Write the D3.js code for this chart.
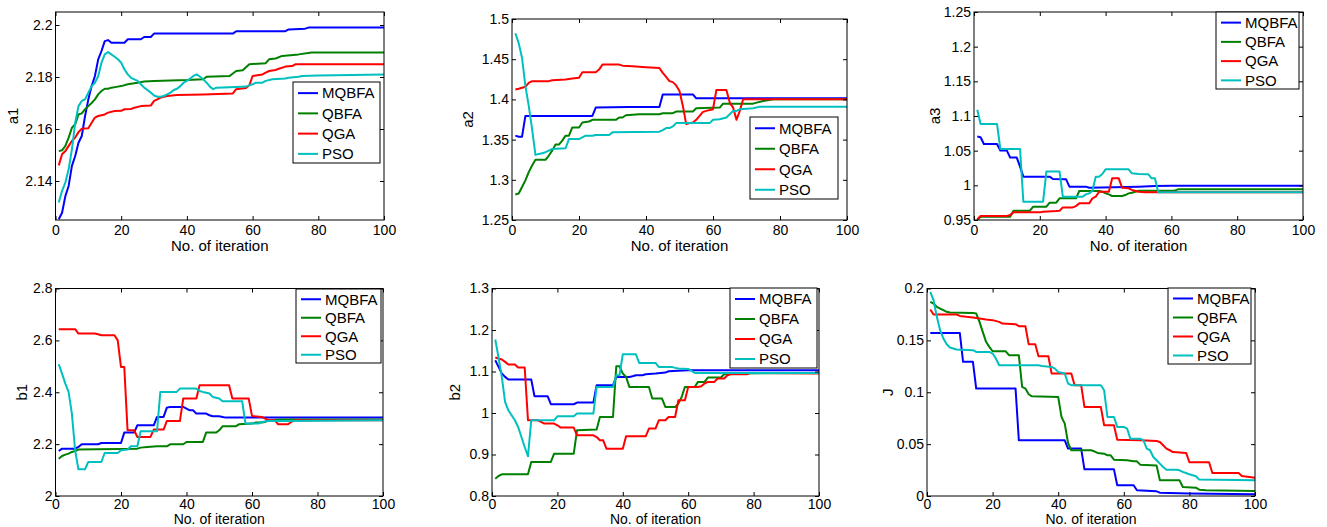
<!DOCTYPE html>
<html>
<head>
<meta charset="utf-8">
<script src="https://cdn.jsdelivr.net/npm/d3@7"></script>
<style>
  body { margin: 0; background: #fff; }
  svg { display: block; font-family: "Liberation Sans", Arial, Helvetica, sans-serif; }
</style>
</head>
<body>
<svg id="chart" width="1327" height="527" viewBox="0 0 1327 527"></svg>
<script>
// series names and colours (MATLAB b, g, r, c)
const seriesNames = ["MQBFA", "QBFA", "QGA", "PSO"]
const seriesColors = ["#0000ff", "#008000", "#ff0000", "#00bfbf"]
const iterTicks = [0, 20, 40, 60, 80, 100]

// values: [iteration, value]
// ---- a1
const a1_MQBFA = [[1,2.1253],[2,2.1278],[3,2.1342],[4,2.1381],[5,2.1458],[6,2.1496],[7,2.1547],[8,2.1573],[9,2.165],[10,2.1714],[11,2.1765],[12,2.1804],[13,2.1868],[14,2.19],[15,2.1938],[16,2.1942],[17,2.1932],[21,2.1932],[22,2.1945],[26,2.1945],[27,2.1954],[29,2.1954],[30,2.1967],[54,2.1967],[55,2.1976],[70,2.1976],[71,2.1983],[76,2.1986],[77,2.199],[100,2.199]]
const a1_QBFA = [[1,2.1515],[2,2.1518],[3,2.1535],[4,2.1567],[5,2.1605],[6,2.1618],[7,2.1656],[8,2.166],[9,2.1676],[10,2.1688],[11,2.17],[12,2.1714],[13,2.1733],[14,2.1746],[15,2.1755],[16,2.1755],[17,2.1759],[19,2.1763],[20,2.1765],[22,2.1772],[25,2.1778],[27,2.1783],[30,2.1785],[40,2.1788],[45,2.1791],[46,2.1801],[53,2.1804],[55,2.1823],[57,2.1826],[59,2.1849],[64,2.1853],[65,2.1868],[67,2.1871],[69,2.1881],[74,2.1887],[78,2.1894],[100,2.1894]]
const a1_QGA = [[1,2.146],[2,2.1503],[3,2.1515],[4,2.1535],[5,2.1554],[6,2.1567],[7,2.1588],[8,2.1601],[10,2.1603],[11,2.1624],[12,2.1644],[13,2.165],[15,2.1656],[16,2.1663],[18,2.1669],[20,2.167],[21,2.1676],[23,2.1677],[24,2.1682],[26,2.1688],[29,2.169],[30,2.1708],[31,2.1714],[32,2.1721],[34,2.1727],[37,2.1731],[45,2.1733],[54,2.1737],[55,2.1753],[58,2.1758],[59,2.1768],[60,2.1804],[61,2.1806],[63,2.181],[64,2.1817],[65,2.1823],[67,2.1827],[68,2.1832],[70,2.184],[72,2.1842],[73,2.1849],[100,2.1849]]
const a1_PSO = [[1,2.1317],[2,2.1362],[3,2.1394],[4,2.1445],[5,2.1522],[6,2.1624],[7,2.1688],[8,2.1708],[9,2.1714],[10,2.174],[11,2.1765],[12,2.1778],[13,2.1804],[14,2.1855],[15,2.1887],[16,2.1896],[17,2.1887],[18,2.1878],[19,2.1868],[20,2.1855],[21,2.1829],[22,2.181],[23,2.1797],[24,2.1791],[25,2.1785],[26,2.1772],[27,2.1759],[28,2.175],[29,2.174],[30,2.1729],[31,2.1724],[32,2.1724],[33,2.1727],[34,2.1733],[35,2.174],[36,2.175],[37,2.1755],[38,2.1765],[39,2.1778],[40,2.1785],[41,2.1794],[42,2.1804],[43,2.181],[44,2.1801],[45,2.1791],[46,2.1778],[47,2.1763],[48,2.1753],[49,2.1759],[55,2.1762],[58,2.1763],[59,2.1768],[60,2.1772],[61,2.1778],[63,2.1778],[64,2.1785],[66,2.1791],[70,2.1794],[71,2.1797],[74,2.1801],[75,2.1804],[80,2.1806],[90,2.1808],[100,2.181]]

// ---- a2
const a2_MQBFA = [[1,1.3549],[2,1.3536],[3,1.3536],[4,1.3795],[24,1.3795],[25,1.3898],[35,1.3905],[44,1.3905],[45,1.4062],[54,1.4062],[55,1.4013],[100,1.4013]]
const a2_QBFA = [[1,1.2817],[2,1.2829],[3,1.2911],[4,1.2993],[5,1.3096],[6,1.3178],[7,1.3248],[10,1.3248],[11,1.3302],[12,1.3363],[13,1.3438],[14,1.3438],[15,1.3487],[16,1.3549],[17,1.3549],[18,1.3651],[20,1.3651],[21,1.3713],[23,1.3725],[24,1.3746],[31,1.3746],[32,1.3775],[33,1.3775],[34,1.3803],[38,1.3816],[44,1.3816],[45,1.3828],[48,1.3828],[49,1.3849],[54,1.3849],[55,1.389],[62,1.3898],[63,1.3947],[72,1.3947],[73,1.396],[75,1.398],[78,1.4001],[100,1.4001]]
const a2_QGA = [[1,1.4124],[2,1.4132],[3,1.4145],[4,1.4157],[5,1.4206],[6,1.4227],[11,1.4227],[12,1.4239],[16,1.4248],[18,1.426],[20,1.4268],[21,1.4338],[25,1.4338],[26,1.4371],[27,1.4433],[32,1.4433],[33,1.442],[36,1.4412],[40,1.44],[44,1.4391],[45,1.433],[46,1.428],[47,1.4227],[48,1.4215],[49,1.4174],[50,1.4104],[51,1.3919],[52,1.3692],[53,1.3705],[54,1.3713],[55,1.3746],[56,1.3795],[57,1.3845],[58,1.3857],[60,1.3877],[61,1.4116],[64,1.4116],[65,1.396],[66,1.3898],[67,1.3746],[68,1.3857],[69,1.4001],[100,1.4001]]
const a2_PSO = [[1,1.4823],[2,1.47],[3,1.4515],[4,1.4165],[5,1.3919],[6,1.3631],[7,1.331],[8,1.3322],[9,1.3331],[10,1.3343],[11,1.3363],[12,1.3384],[16,1.3392],[17,1.3507],[20,1.3507],[21,1.3528],[22,1.3549],[24,1.3549],[25,1.3557],[29,1.3557],[30,1.359],[44,1.3598],[45,1.3618],[46,1.3643],[47,1.3643],[48,1.3664],[49,1.3705],[59,1.3705],[60,1.3746],[62,1.3754],[64,1.3775],[65,1.3816],[66,1.3857],[67,1.3857],[68,1.3877],[72,1.389],[74,1.391],[100,1.391]]

// ---- a3
const a3_MQBFA = [[1,1.0703],[2,1.0694],[3,1.0597],[7,1.0597],[8,1.0501],[10,1.0501],[11,1.04],[13,1.04],[14,1.027],[15,1.0125],[23,1.0125],[24,1.0091],[28,1.0087],[29,0.9981],[34,0.9981],[35,0.9966],[50,0.9981],[55,0.999],[60,0.9995],[100,0.9995]]
const a3_QBFA = [[1,0.95],[2,0.9547],[11,0.9547],[12,0.9634],[17,0.9634],[18,0.9692],[22,0.9692],[23,0.975],[25,0.975],[26,0.9812],[31,0.9812],[32,0.9918],[38,0.9918],[39,0.9908],[40,0.9884],[41,0.987],[42,0.9846],[45,0.9846],[46,0.986],[47,0.9884],[48,0.9894],[49,0.9908],[50,0.9923],[61,0.9923],[62,0.9942],[100,0.9942]]
const a3_QGA = [[1,0.951],[2,0.9557],[10,0.9557],[11,0.9571],[12,0.961],[20,0.961],[21,0.962],[25,0.9629],[26,0.9634],[27,0.9682],[30,0.9682],[31,0.9701],[32,0.974],[35,0.974],[36,0.9812],[37,0.9836],[38,0.9908],[41,0.9908],[42,1.0101],[44,1.0101],[45,0.9966],[47,0.9957],[48,0.9933],[50,0.9908],[52,0.9899],[100,0.9899]]
const a3_PSO = [[1,1.1089],[2,1.0886],[7,1.0886],[8,1.0525],[14,1.0525],[15,0.9764],[21,0.9764],[22,1.0198],[26,1.0198],[27,0.9836],[33,0.9836],[34,0.987],[35,0.9884],[36,0.9923],[37,1.0125],[38,1.0125],[39,1.0164],[40,1.0231],[47,1.0231],[48,1.0174],[50,1.0164],[53,1.0159],[54,1.0101],[55,1.0101],[56,0.9899],[100,0.9899]]

// ---- b1
const b1_MQBFA = [[1,2.1736],[2,2.1826],[6,2.1826],[7,2.1891],[8,2.1994],[13,2.1994],[14,2.2045],[20,2.2045],[21,2.2444],[24,2.2444],[25,2.2727],[30,2.2727],[31,2.3048],[33,2.3048],[34,2.3408],[35,2.3434],[39,2.3434],[40,2.337],[41,2.3305],[42,2.3305],[43,2.3177],[46,2.3177],[47,2.3113],[48,2.3074],[50,2.3074],[51,2.3048],[52,2.3022],[100,2.3022]]
const b1_QBFA = [[1,2.144],[2,2.1543],[3,2.1595],[4,2.1633],[5,2.1698],[6,2.1736],[7,2.1788],[25,2.1826],[26,2.1865],[28,2.1891],[31,2.1916],[34,2.1916],[35,2.1994],[39,2.1994],[40,2.2084],[45,2.2084],[46,2.2444],[49,2.2444],[50,2.2534],[51,2.2688],[55,2.2688],[56,2.2765],[60,2.2791],[61,2.283],[63,2.283],[64,2.2855],[65,2.292],[69,2.2945],[100,2.2945]]
const b1_QGA = [[1,2.643],[6,2.643],[7,2.6264],[12,2.6264],[13,2.6238],[14,2.62],[18,2.62],[19,2.6],[20,2.4977],[21,2.4977],[22,2.2534],[24,2.2534],[25,2.2277],[29,2.2277],[30,2.256],[33,2.256],[34,2.2894],[38,2.2894],[39,2.3756],[43,2.3756],[44,2.427],[53,2.427],[54,2.3756],[59,2.3756],[60,2.3087],[63,2.3048],[64,2.2984],[65,2.292],[67,2.292],[68,2.2765],[71,2.2765],[72,2.2855],[73,2.292],[100,2.292]]
const b1_PSO = [[1,2.508],[2,2.472],[3,2.4334],[4,2.4013],[5,2.3177],[6,2.1762],[7,2.1029],[9,2.1029],[10,2.1312],[14,2.1312],[15,2.1659],[19,2.1659],[20,2.1762],[22,2.1788],[23,2.1916],[25,2.1916],[26,2.2495],[31,2.2495],[32,2.4013],[37,2.4013],[38,2.4141],[43,2.4141],[44,2.405],[45,2.4013],[47,2.395],[48,2.382],[50,2.3756],[51,2.3653],[57,2.3653],[58,2.2791],[62,2.2791],[63,2.2855],[65,2.2894],[70,2.2894],[100,2.292]]

// ---- b2
const b2_MQBFA = [[1,1.1272],[2,1.1111],[3,1.095],[4,1.087],[5,1.0806],[12,1.0806],[13,1.0404],[17,1.0404],[18,1.0211],[25,1.0211],[26,1.0251],[31,1.0251],[32,1.0669],[37,1.0669],[38,1.087],[42,1.087],[43,1.0886],[44,1.091],[46,1.091],[47,1.0934],[50,1.095],[53,1.0974],[54,1.1006],[60,1.103],[100,1.103]]
const b2_QBFA = [[1,0.8418],[2,0.8482],[3,0.8522],[11,0.8522],[12,0.882],[18,0.882],[19,0.9021],[25,0.9021],[26,0.9584],[32,0.96],[33,0.9905],[37,0.9905],[38,1.1127],[39,1.1127],[40,1.095],[41,1.087],[42,1.0629],[48,1.0629],[49,1.0347],[52,1.0347],[53,1.0146],[56,1.0146],[57,1.0226],[58,1.0387],[59,1.0629],[62,1.0629],[63,1.0749],[65,1.0749],[66,1.0854],[70,1.0854],[71,1.0934],[75,1.095],[100,1.0966]]
const b2_QGA = [[1,1.1336],[2,1.1312],[3,1.1288],[4,1.1232],[5,1.1167],[7,1.1167],[8,1.1095],[10,1.1095],[11,0.9825],[14,0.9825],[15,0.9785],[16,0.9744],[19,0.9744],[20,0.9704],[21,0.9648],[25,0.9648],[26,0.9463],[31,0.9463],[32,0.9421],[33,0.9342],[34,0.9342],[35,0.9141],[40,0.9141],[41,0.9439],[47,0.9439],[48,0.9624],[50,0.9624],[51,0.9825],[53,0.9825],[54,0.9905],[56,0.9905],[57,1.0307],[59,1.0307],[60,1.0629],[63,1.0629],[64,1.0645],[65,1.0711],[66,1.0749],[68,1.0749],[69,1.083],[71,1.083],[72,1.091],[73,1.0934],[78,1.0934],[79,1.0966],[100,1.095]]
const b2_PSO = [[1,1.177],[2,1.1336],[3,1.087],[4,1.0267],[5,1.0066],[6,0.9946],[7,0.9825],[8,0.9664],[9,0.9423],[10,0.9182],[11,0.8957],[12,0.9825],[19,0.9825],[20,0.9921],[25,0.9921],[26,0.9986],[31,0.9986],[32,1.0629],[37,1.0629],[38,1.091],[39,1.091],[40,1.1416],[44,1.1416],[45,1.1207],[50,1.1207],[51,1.1111],[55,1.1111],[56,1.1087],[57,1.1071],[60,1.1063],[61,1.1014],[62,1.0966],[100,1.0966]]

// ---- J
const J_MQBFA = [[1,0.1572],[10,0.1572],[11,0.1293],[14,0.1293],[15,0.1035],[27,0.1035],[28,0.0537],[42,0.0537],[43,0.0457],[47,0.0457],[48,0.0257],[57,0.0257],[58,0.0103],[63,0.0103],[64,0.0055],[70,0.0045],[71,0.0032],[80,0.0023],[100,0.0016]]
const J_QBFA = [[1,0.1871],[2,0.1855],[3,0.1823],[4,0.1807],[5,0.1791],[6,0.1775],[7,0.1768],[14,0.1765],[15,0.1759],[16,0.1678],[17,0.1582],[18,0.1486],[19,0.1437],[20,0.1395],[24,0.1395],[25,0.1357],[28,0.1357],[29,0.1051],[30,0.1035],[31,0.0981],[32,0.0961],[40,0.0955],[41,0.0762],[42,0.0698],[43,0.0511],[44,0.0441],[50,0.0441],[51,0.0431],[52,0.0415],[54,0.0408],[55,0.0392],[56,0.0392],[57,0.035],[61,0.0344],[63,0.0334],[64,0.0334],[65,0.0302],[70,0.0293],[71,0.0151],[77,0.0151],[78,0.0087],[82,0.008],[83,0.0061],[85,0.0055],[100,0.0048]]
const J_QGA = [[1,0.1797],[2,0.1749],[9,0.1749],[10,0.1736],[12,0.1727],[14,0.172],[16,0.1711],[18,0.1701],[20,0.1695],[22,0.1678],[23,0.1662],[27,0.1656],[28,0.1637],[30,0.1637],[31,0.1463],[33,0.1463],[34,0.1347],[37,0.1347],[38,0.118],[44,0.118],[45,0.1068],[47,0.1068],[48,0.0859],[53,0.0859],[54,0.0682],[57,0.0682],[58,0.0543],[65,0.0537],[70,0.053],[71,0.052],[72,0.0489],[73,0.0457],[74,0.0441],[75,0.0424],[79,0.0415],[80,0.0325],[86,0.0325],[87,0.0222],[95,0.0222],[96,0.0193],[100,0.0177]]
const J_PSO = [[1,0.1968],[2,0.1887],[3,0.1727],[4,0.1598],[5,0.1518],[6,0.1463],[7,0.1431],[9,0.1412],[14,0.1405],[15,0.1389],[19,0.1389],[20,0.1373],[21,0.1325],[22,0.126],[34,0.126],[35,0.1254],[38,0.1244],[39,0.1228],[40,0.1196],[42,0.118],[43,0.1084],[44,0.1068],[53,0.1068],[54,0.1019],[55,0.0762],[57,0.0762],[58,0.0666],[60,0.0666],[61,0.065],[62,0.0553],[65,0.0553],[66,0.0537],[67,0.0457],[68,0.0441],[69,0.0376],[70,0.0344],[71,0.0312],[72,0.028],[73,0.0254],[76,0.0254],[77,0.0248],[78,0.0232],[79,0.0222],[80,0.0209],[81,0.02],[82,0.019],[83,0.0158],[100,0.0151]]

// y tick values for each panel
const a1Ticks = [2.14, 2.16, 2.18, 2.2]
const a2Ticks = [1.25, 1.3, 1.35, 1.4, 1.45, 1.5]
const a3Ticks = [0.95, 1, 1.05, 1.1, 1.15, 1.2, 1.25]
const b1Ticks = [2, 2.2, 2.4, 2.6, 2.8]
const b2Ticks = [0.8, 0.9, 1, 1.1, 1.2, 1.3]
const JTicks = [0, 0.05, 0.1, 0.15, 0.2]

const svg = d3.select("#chart")
const W = 1327, H = 527

// panel placement (box corners), y limits, legend box, y label x, x label offset/size, tick pad
const panels = [
  {label: "a1", data: [a1_MQBFA, a1_QBFA, a1_QGA, a1_PSO], ticks: a1Ticks, ylim: [2.125, 2.205],
   box: [55.5, 12, 384, 220], legend: [293, 82, 87, 81], ylabX: 13, xlabDy: 31, xlabFs: 15, xpad: 5},
  {label: "a2", data: [a2_MQBFA, a2_QBFA, a2_QGA, a2_PSO], ticks: a2Ticks, ylim: [1.25, 1.5],
   box: [512, 19, 847, 220], legend: [750, 117, 88, 82], ylabX: 468, xlabDy: 31, xlabFs: 15, xpad: 5},
  {label: "a3", data: [a3_MQBFA, a3_QBFA, a3_QGA, a3_PSO], ticks: a3Ticks, ylim: [0.95, 1.25],
   box: [974, 12, 1303, 220], legend: [1216, 12, 83, 77], ylabX: 935, xlabDy: 31, xlabFs: 15, xpad: 5},
  {label: "b1", data: [b1_MQBFA, b1_QBFA, b1_QGA, b1_PSO], ticks: b1Ticks, ylim: [2, 2.8],
   box: [55.5, 288.5, 383, 496], legend: [296, 289, 85, 74], ylabX: 22, xlabDy: 28, xlabFs: 14, xpad: 3},
  {label: "b2", data: [b2_MQBFA, b2_QBFA, b2_QGA, b2_PSO], ticks: b2Ticks, ylim: [0.8, 1.3],
   box: [492, 288.5, 819, 496], legend: [730, 288, 87, 80], ylabX: 455, xlabDy: 28, xlabFs: 14, xpad: 3},
  {label: "J", data: [J_MQBFA, J_QBFA, J_QGA, J_PSO], ticks: JTicks, ylim: [0, 0.2],
   box: [927, 288.5, 1255, 496], legend: [1168, 288, 83, 76], ylabX: 888, xlabDy: 28, xlabFs: 14, xpad: 3}
]

svg.append("rect").attr("width", W).attr("height", H).attr("fill", "#fff")

panels.forEach((p, pi) => {
  const [x0, y0, x1, y1] = p.box
  const x = d3.scaleLinear().domain([0, 100]).range([x0, x1])
  const y = d3.scaleLinear().domain(p.ylim).range([y1, y0])
  const g = svg.append("g")

  // clip so lines stay inside the box
  g.append("clipPath").attr("id", "clip" + pi)
    .append("rect").attr("x", x0).attr("y", y0).attr("width", x1 - x0).attr("height", y1 - y0)

  const line = d3.line().x(d => x(d[0])).y(d => y(d[1]))
  g.append("g").attr("clip-path", `url(#clip${pi})`)
    .selectAll("path")
    .data(p.data)
    .enter()
    .append("path")
    .attr("d", line)
    .attr("fill", "none")
    .attr("stroke", (d, i) => seriesColors[i])
    .attr("stroke-width", 2)
    .attr("stroke-linejoin", "round")

  // axes, ticks point inward like matlab
  const fmt = v => String(+v.toFixed(4))
  const bottom = g.append("g").attr("transform", `translate(0,${y1})`)
    .call(d3.axisBottom(x).tickValues(iterTicks).tickSizeInner(-4).tickSizeOuter(0).tickPadding(p.xpad).tickFormat(fmt))
  const left = g.append("g").attr("transform", `translate(${x0},0)`)
    .call(d3.axisLeft(y).tickValues(p.ticks).tickSizeInner(-4).tickSizeOuter(0).tickPadding(3).tickFormat(fmt))
  const top = g.append("g").attr("transform", `translate(0,${y0})`)
    .call(d3.axisTop(x).tickValues(iterTicks).tickSizeInner(-4).tickSizeOuter(0).tickFormat(""))
  const right = g.append("g").attr("transform", `translate(${x1},0)`)
    .call(d3.axisRight(y).tickValues(p.ticks).tickSizeInner(-4).tickSizeOuter(0).tickFormat(""))
  ;[bottom, left, top, right].forEach(a => {
    a.select(".domain").remove()
    a.selectAll("line").attr("stroke", "#000")
    a.selectAll("text").attr("fill", "#000").style("font-size", "14px").style("font-family", null)
  })

  g.append("rect").attr("x", x0).attr("y", y0).attr("width", x1 - x0).attr("height", y1 - y0)
    .attr("fill", "none").attr("stroke", "#000").attr("stroke-width", 1)

  g.append("text")
    .attr("x", (x0 + x1) / 2).attr("y", y1 + p.xlabDy)
    .attr("text-anchor", "middle").style("font-size", p.xlabFs + "px")
    .text("No. of iteration")

  g.append("text")
    .attr("transform", `translate(${p.ylabX},${(y0 + y1) / 2}) rotate(-90)`)
    .attr("text-anchor", "middle").attr("dy", "0.35em").style("font-size", "15px")
    .text(p.label)

  // legend
  const [lx, ly, lw, lh] = p.legend
  const lg = g.append("g")
  lg.append("rect").attr("x", lx).attr("y", ly).attr("width", lw).attr("height", lh)
    .attr("fill", "#fff").attr("stroke", "#000").attr("stroke-width", 1)
  seriesNames.forEach((name, i) => {
    const ry = ly + lh * (2 * i + 1) / 8 + 1
    lg.append("line").attr("x1", lx + 5).attr("x2", lx + 25).attr("y1", ry).attr("y2", ry)
      .attr("stroke", seriesColors[i]).attr("stroke-width", 2)
    lg.append("text").attr("x", lx + 29).attr("y", ry).attr("dy", "0.35em")
      .style("font-size", "15px").text(name)
  })
})
</script>
</body>
</html>
